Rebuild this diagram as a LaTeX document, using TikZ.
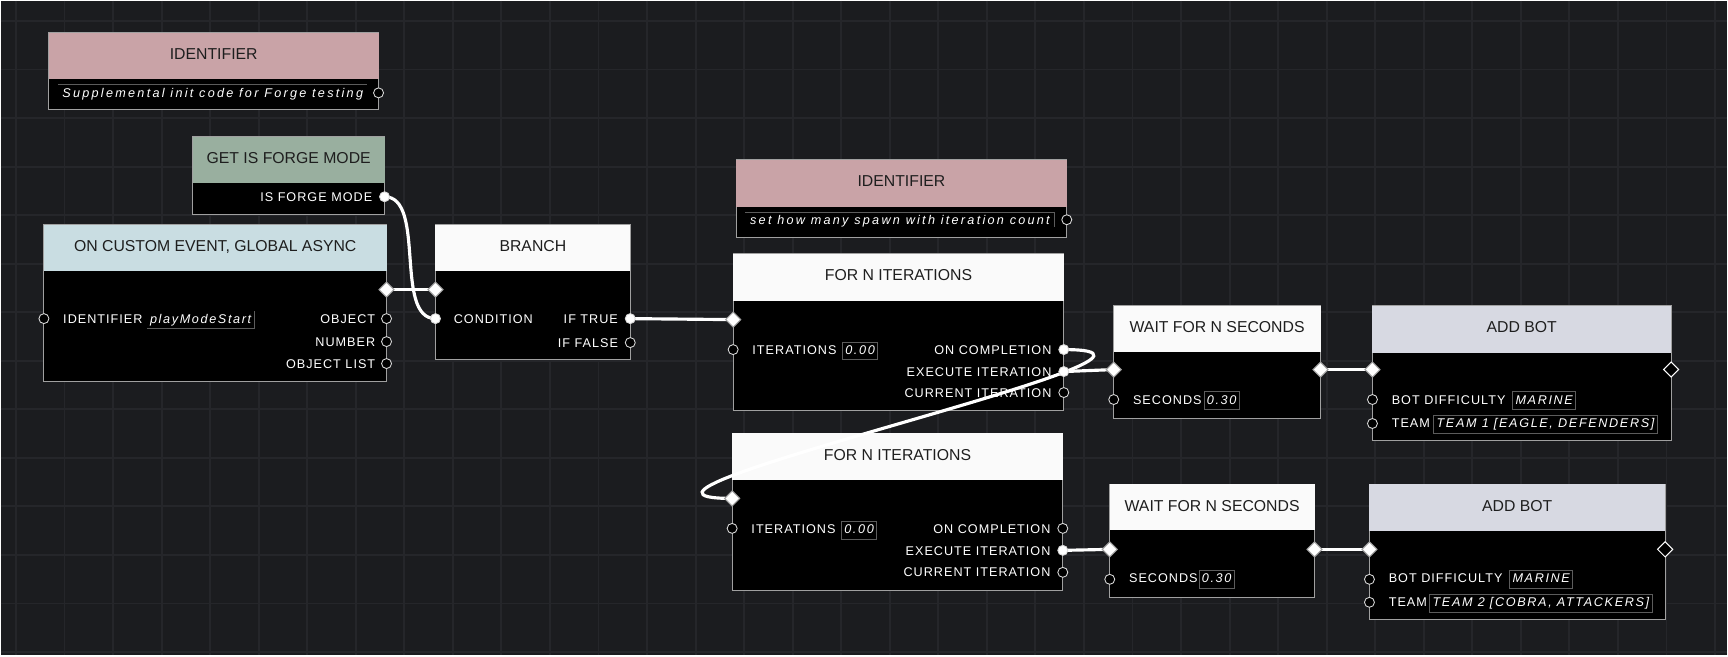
\documentclass[tikz,border=0pt]{standalone}
\usepackage{fontspec}
\setmainfont{Liberation Sans}
\newfontfamily\portfont[LetterSpace=8]{Liberation Sans}
\newfontfamily\fieldfont[LetterSpace=13]{Liberation Sans}
\newfontfamily\notefont[LetterSpace=18]{Liberation Sans}
\usepackage{tikz}
\usetikzlibrary{shapes.geometric,fit,calc}
\usepackage{xcolor}
\definecolor{canvas}{HTML}{1B1C1F}
\definecolor{gridc}{HTML}{25262A}
\definecolor{idpink}{HTML}{C9A3A7}
\definecolor{forgegreen}{HTML}{99AF9F}
\definecolor{eventblue}{HTML}{C9DDE2}
\definecolor{plainhead}{HTML}{FAFAFA}
\definecolor{botgrey}{HTML}{D7D9E2}
\definecolor{edgec}{HTML}{A0A0A0}
\definecolor{fieldc}{HTML}{5C5C5C}
\definecolor{inkc}{HTML}{1E1E1E}
\pgfdeclarelayer{wires}
\pgfdeclarelayer{ports}
\pgfsetlayers{main,wires,ports}

\begin{document}
\begin{tikzpicture}[x=0.02cm,y=-0.02cm,
  blk/.style={draw=edgec,fill=black,line width=0.6pt,inner sep=0pt,outer sep=0pt},
  hd/.style={inner sep=0pt,outer sep=0pt},
  ttl/.style={inner sep=0pt,anchor=base,text=inkc,font=\fontsize{9}{10}\selectfont},
  lbl/.style={inner sep=0pt,text=white,font=\portfont\fontsize{7.2}{8}\selectfont},
  note/.style={inner sep=0pt,anchor=base,text=white,font=\notefont\itshape\fontsize{7.2}{8}\selectfont},
  fld/.style={draw=fieldc,line width=0.5pt,inner sep=1.6pt,anchor=base west,text=white,text height=5.3pt,text depth=1.4pt,
    font=\fieldfont\itshape\fontsize{7.2}{8}\selectfont},
  sock/.style={circle,draw=white!85!black,line width=0.5pt,fill=black,minimum size=0.2cm,inner sep=0pt},
  sockon/.style={sock,fill=white},
  flowon/.style={diamond,aspect=1,draw=edgec,fill=white,line width=0.6pt,minimum size=0.31cm,inner sep=0pt},
  flowoff/.style={flowon,draw=white,fill=black},
  wire/.style={white,line width=1.8pt},
  gridline/.style={gridc,line width=1.1pt}]
  % canvas and grid
  \fill[canvas] (0,0) rectangle (1728,655);
  \foreach \gx in {0,...,35} \draw[gridline] ({15+48.6*\gx},0) -- ({15+48.6*\gx},655);
  \foreach \gy in {0,...,13} \draw[gridline] (0,{20+48.6*\gy}) -- (1728,{20+48.6*\gy});

  % identifier (top left)
  \node[blk,fit={(48,32)(378,109)}] (id1) {};
  \node[hd,fill=idpink,fit={(48,32)(378,78)}] (id1h) {};
  \node[ttl] (id1t) at ([yshift=-2.1pt]id1h.center) {IDENTIFIER};
  \node[note] (id1n) at (212,96.5) {Supplemental init code for Forge testing};
  \draw[fieldc,line width=0.5pt] (57,84) -- (366,84);

  % get is forge mode
  \node[blk,fit={(192,136)(384,214)}] (gf) {};
  \node[hd,fill=forgegreen,fit={(192,136)(384,182)}] (gfh) {};
  \node[ttl] (gft) at ([yshift=-2.1pt]gfh.center) {GET IS FORGE MODE};
  \node[lbl,anchor=base east] (gfl) at (372,200.5) {IS FORGE MODE};

  % custom event
  \node[blk,fit={(43,224)(386,381)}] (ev) {};
  \node[hd,fill=eventblue,fit={(43,224)(386,270)}] (evh) {};
  \node[ttl] (evt) at ([yshift=-2.1pt]evh.center) {ON CUSTOM EVENT, GLOBAL ASYNC};
  \node[lbl,anchor=base west] (evl) at (62,322.5) {IDENTIFIER};
  \node[fld,draw=none] (evf) at (146,322.5) {playModeStart};
  \draw[fieldc,line width=0.5pt] (evf.south west) -- (evf.south east) -- (evf.north east);
  \foreach \lab/\yy/\nm in {OBJECT/318/obj,NUMBER/341/num,OBJECT LIST/363/olist}
    \node[lbl,anchor=base east] (ev-\nm-l) at (375,\yy+4.5) {\lab};

  % branch
  \node[blk,fit={(435,224)(630,359)}] (br) {};
  \node[hd,fill=plainhead,fit={(435,224)(630,270)}] (brh) {};
  \node[ttl] (brt) at ([yshift=-2.1pt]brh.center) {BRANCH};
  \node[lbl,anchor=base west] (brl) at (453,322.5) {CONDITION};
  \node[lbl,anchor=base east] (br-true-l) at (618,322.5) {IF TRUE};
  \node[lbl,anchor=base east] (br-false-l) at (618,346.5) {IF FALSE};

  % identifier (spawn count)
  \node[blk,fit={(736,159)(1067,237)}] (id2) {};
  \node[hd,fill=idpink,fit={(736,159)(1067,206)}] (id2h) {};
  \node[ttl] (id2t) at ([yshift=-2.1pt]id2h.center) {IDENTIFIER};
  \node[note] (id2n) at (900,223.5) {set how many spawn with iteration count};
  \draw[fieldc,line width=0.5pt] (745,212) -- (1055,212) -- (1055,226);

  % the two loops
  \foreach \nm/\top/\lft/\rgt in {fa/253/733/1064,fb/433/732/1063} {
    \node[blk,fit={(\lft,\top)(\rgt,\top+157)}] (\nm) {};
    \node[hd,fill=plainhead,fit={(\lft,\top)(\rgt,\top+47)}] (\nm h) {};
    \node[ttl] (\nm t) at ([yshift=-2.1pt]\nm h.center) {FOR N ITERATIONS};
    \node[lbl,anchor=base west] (\nm-it-l) at (\lft+19,\top+100.5) {ITERATIONS};
    \node[fld] (\nm-it-f) at (\lft+109,\top+100.5) {0.00};
    \node[lbl,anchor=base east] (\nm-done-l) at (\rgt-12,\top+100.5) {ON COMPLETION};
    \node[lbl,anchor=base east] (\nm-exec-l) at (\rgt-12,\top+122.5) {EXECUTE ITERATION};
    \node[lbl,anchor=base east] (\nm-cur-l) at (\rgt-12,\top+143.5) {CURRENT ITERATION};
  }

  % waits
  \foreach \nm/\top/\lft/\rgt/\fx in {wa/305/1114/1321/1204,wb/484/1110/1315/1199} {
    \node[blk,fit={(\lft,\top)(\rgt,\top+113)}] (\nm) {};
    \node[hd,fill=plainhead,fit={(\lft,\top)(\rgt,\top+46)}] (\nm h) {};
    \node[ttl] (\nm t) at ([yshift=-2.1pt]\nm h.center) {WAIT FOR N SECONDS};
    \node[lbl,anchor=base west] (\nm-sec-l) at (\lft+19,\top+98.5) {SECONDS};
    \node[fld] (\nm-sec-f) at (\fx,\top+98.5) {0.30};
  }

  % add bots
  \foreach \nm/\top/\lft/\rgt/\mx/\tx/\team in {ab/305/1373/1672/1513/1434/{TEAM 1 [EAGLE, DEFENDERS]},
      bb/484/1370/1666/1510/1430/{TEAM 2 [COBRA, ATTACKERS]}} {
    \node[blk,fit={(\lft,\top)(\rgt,\top+135)}] (\nm) {};
    \node[hd,fill=botgrey,fit={(\lft,\top)(\rgt,\top+47)}] (\nm h) {};
    \node[ttl] (\nm t) at ([yshift=-2.1pt]\nm h.center) {ADD BOT};
    \node[lbl,anchor=base west] (\nm-diff-l) at (\lft+19,\top+98.5) {BOT DIFFICULTY};
    \node[fld] (\nm-diff-f) at (\mx,\top+98.5) {MARINE};
    \node[lbl,anchor=base west] (\nm-team-l) at (\lft+19,\top+122.5) {TEAM};
    \node[fld] (\nm-team-f) at (\tx,\top+122.5) {\team};
  }

  % ports
  \begin{pgfonlayer}{ports}
    \node[sock] (id1-out) at (378,92) {};
    \node[sockon] (gf-out) at (384,196) {};
    \node[flowon] (ev-next) at (386,289) {};
    \node[sock] (ev-id) at (43,318) {};
    \foreach \yy/\nm in {318/obj,341/num,363/olist} \node[sock] (ev-\nm) at (386,\yy) {};
    \node[flowon] (br-in) at (435,289) {};
    \node[sockon] (br-cond) at (435,318) {};
    \node[sockon] (br-true) at (630,318) {};
    \node[sock] (br-false) at (630,342) {};
    \node[sock] (id2-out) at (1067,219) {};
    \node[flowon] (fa-in) at (733,319) {};
    \node[sock] (fa-it) at (733,349) {};
    \node[sockon] (fa-done) at (1064,349) {};
    \node[sockon] (fa-exec) at (1064,371) {};
    \node[sock] (fa-cur) at (1064,392) {};
    \node[flowon] (fb-in) at (732,498) {};
    \node[sock] (fb-it) at (732,528) {};
    \node[sock] (fb-done) at (1063,528) {};
    \node[sockon] (fb-exec) at (1063,550) {};
    \node[sock] (fb-cur) at (1063,572) {};
    \node[flowon] (wa-in) at (1114,369) {};
    \node[flowon] (wa-out) at (1321,369) {};
    \node[sock] (wa-sec) at (1114,399) {};
    \node[flowon] (wb-in) at (1110,549) {};
    \node[flowon] (wb-out) at (1315,549) {};
    \node[sock] (wb-sec) at (1110,579) {};
    \node[flowon] (ab-in) at (1373,369) {};
    \node[flowoff] (ab-out) at (1672,369) {};
    \node[sock] (ab-diff) at (1373,399) {};
    \node[sock] (ab-team) at (1373,423) {};
    \node[flowon] (bb-in) at (1370,549) {};
    \node[flowoff] (bb-out) at (1666,549) {};
    \node[sock] (bb-diff) at (1370,579) {};
    \node[sock] (bb-team) at (1370,602) {};
  \end{pgfonlayer}

  % wires
  \begin{pgfonlayer}{wires}
    \draw[wire] (ev-next.center) -- (br-in.center);
    \draw[wire] (gf-out.center) .. controls +(42,0) and +(-42,0) .. (br-cond.center);
    \draw[wire] (br-true.center) -- (fa-in.center);
    \draw[wire] (fa-done.center) .. controls +(180,0) and +(-180,0) .. (fb-in.center);
    \draw[wire] (fa-exec.center) -- (wa-in.center);
    \draw[wire] (wa-out.center) -- (ab-in.center);
    \draw[wire] (fb-exec.center) -- (wb-in.center);
    \draw[wire] (wb-out.center) -- (bb-in.center);
  \end{pgfonlayer}
\end{tikzpicture}
\end{document}
